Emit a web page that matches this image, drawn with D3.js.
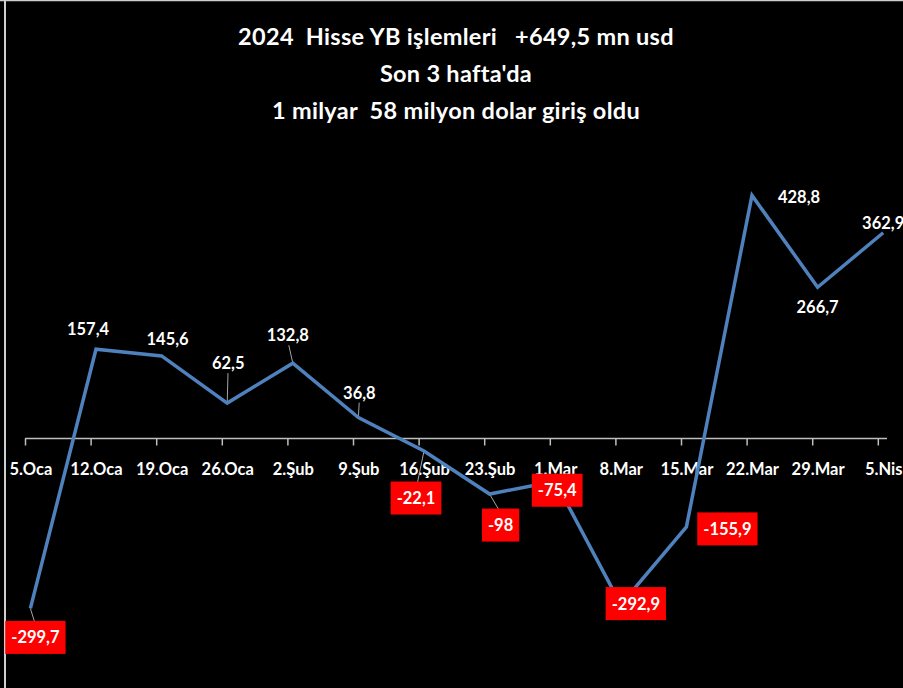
<!DOCTYPE html>
<html>
<head>
<meta charset="utf-8">
<script src="https://cdn.jsdelivr.net/npm/d3@7"></script>
<style>
  html, body { margin: 0; padding: 0; background: #000; }
  svg { display: block; }
  text { font-family: Lato, 'Open Sans', sans-serif; font-weight: bold; fill: #fff; }
  .title { white-space: pre; }
</style>
</head>
<body>
<div id="chart"></div>
<script>
const weeks = ['5.Oca', '12.Oca', '19.Oca', '26.Oca', '2.Şub', '9.Şub', '16.Şub',
  '23.Şub', '1.Mar', '8.Mar', '15.Mar', '22.Mar', '29.Mar', '5.Nis']
const flows = [-299.7, 157.4, 145.6, 62.5, 132.8, 36.8, -22.1,
  -98, -75.4, -292.9, -155.9, 428.8, 266.7, 362.9]
const titleLines = [
  '2024  Hisse YB işlemleri   +649,5 mn usd',
  "Son 3 hafta'da",
  '1 milyar  58 milyon dolar giriş oldu'
]

// label placement (offset from the point, like the manual Excel positions)
const labelDx = [5, -8, 6, 1, -5, 1, -8, 11, 2, 15, 41, 47, 0, 0]
const labelDy = [29, -20, -17, -40, -28, -25, 47, 31, 9, -1, 2, 2, 20, -10]
// leader lines drawn for these points
const leaders = [0, 3, 4, 5, 6, 7]

const width = 903
const height = 688

const svg = d3.select('#chart')
  .append('svg')
  .attr('width', width)
  .attr('height', height)

svg.append('rect')
  .attr('width', width)
  .attr('height', height)
  .attr('fill', '#000')

// chart border (only top and left visible)
svg.append('line')
  .attr('x1', 5).attr('x2', 5).attr('y1', 0).attr('y2', height)
  .attr('stroke', '#cfcfcf').attr('stroke-width', 2)
svg.append('line')
  .attr('x1', 0).attr('x2', width).attr('y1', 0.5).attr('y2', 0.5)
  .attr('stroke', '#cfcfcf').attr('stroke-width', 1.5)

// title
svg.selectAll('.title')
  .data(titleLines)
  .enter()
  .append('text')
  .attr('class', 'title')
  .attr('x', 456)
  .attr('y', (d, i) => 45 + i * 37)
  .attr('text-anchor', 'middle')
  .attr('font-size', '23.5px')
  .attr('letter-spacing', '0.3px')
  .text(d => d)

const k = 0.567
const zeroY = 438.5
const xScale = d3.scalePoint().domain(weeks).range([30.4, 883.2])
const yScale = d3.scaleLinear()
  .domain([-350, 450])
  .range([zeroY + 350 * k, zeroY - 450 * k])

// x axis
const xAxis = d3.axisBottom(xScale).tickSize(7).tickPadding(0)
const axisG = svg.append('g')
  .attr('class', 'x-axis')
  .attr('transform', 'translate(0,' + yScale(0) + ')')
  .call(xAxis)
axisG.select('.domain').remove()
axisG.selectAll('.tick line')
  .attr('x1', -5.4).attr('x2', -5.4)
  .attr('stroke', '#bfbfbf')
  .attr('stroke-width', 1.5)
axisG.selectAll('.tick text')
  .attr('y', 36)
  .attr('dy', 0)
  .attr('font-size', '16.5px')
  .attr('fill', '#fff')
axisG.append('line')
  .attr('x1', xScale(weeks[0]) - 5.4)
  .attr('x2', 887)
  .attr('y1', 0).attr('y2', 0)
  .attr('stroke', '#bfbfbf')
  .attr('stroke-width', 1.5)

const points = weeks.map((w, i) => ({ week: w, value: flows[i], i: i }))

// leader lines
svg.selectAll('.leader')
  .data(points.filter(d => leaders.includes(d.i)))
  .enter()
  .append('line')
  .attr('class', 'leader')
  .attr('x1', d => xScale(d.week))
  .attr('y1', d => yScale(d.value))
  .attr('x2', d => xScale(d.week) + labelDx[d.i] * 0.8)
  .attr('y2', d => yScale(d.value) + labelDy[d.i] - (d.value < 0 ? 16 : -10))
  .attr('stroke', '#a6a6a6')
  .attr('stroke-width', 1)

// line
const line = d3.line()
  .x(d => xScale(d.week))
  .y(d => yScale(d.value))

svg.append('path')
  .datum(points)
  .attr('d', line)
  .attr('fill', 'none')
  .attr('stroke', '#4f81bd')
  .attr('stroke-width', 3.5)
  .attr('stroke-linejoin', 'miter')

const fmt = v => String(v).replace('.', ',')

// labels
const labels = svg.selectAll('.label')
  .data(points)
  .enter()
  .append('g')
  .attr('class', 'label')
  .attr('transform', d => 'translate(' + (xScale(d.week) + labelDx[d.i]) + ',' + (yScale(d.value) + labelDy[d.i]) + ')')

labels.filter(d => d.value < 0)
  .append('rect')
  .attr('fill', '#ff0000')

labels.append('text')
  .attr('text-anchor', 'middle')
  .attr('dy', '0.36em')
  .attr('font-size', '16.5px')
  .text(d => fmt(d.value))

labels.filter(d => d.value < 0).each(function () {
  const g = d3.select(this)
  const w = g.select('text').node().getComputedTextLength()
  g.select('rect')
    .attr('x', -w / 2 - 6)
    .attr('y', -16.5)
    .attr('width', w + 12)
    .attr('height', 33)
})
</script>
</body>
</html>
